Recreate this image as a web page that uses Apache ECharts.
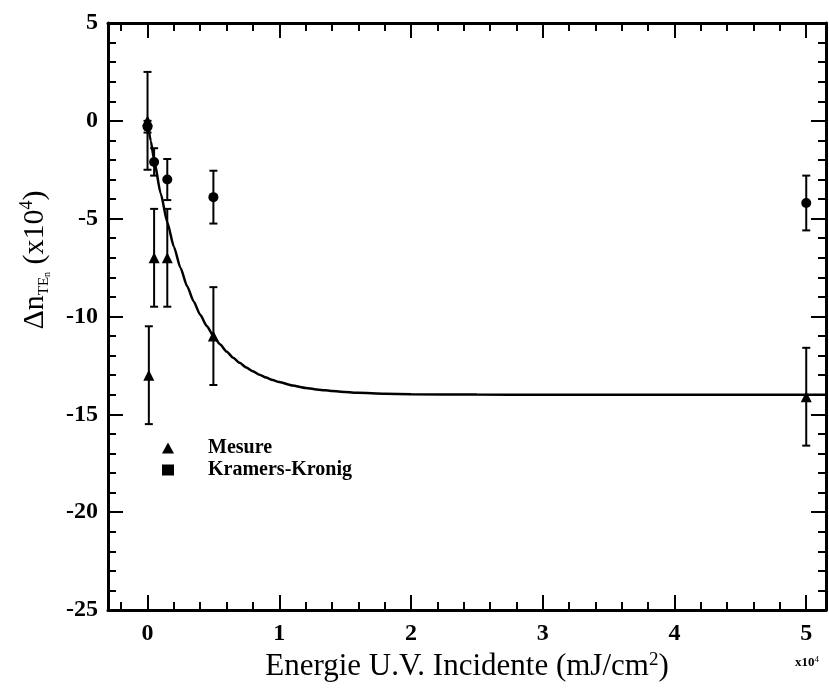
<!DOCTYPE html>
<html>
<head>
<meta charset="utf-8"/>
<title>Energie U.V. Incidente</title>
<script src="https://cdn.jsdelivr.net/npm/echarts@6/dist/echarts.min.js"></script>
<style>
html, body { margin: 0; padding: 0; background: #fff; }
#chart { width: 829px; height: 688px; }
</style>
</head>
<body>
<div id="chart"></div>
<script>
// energie en unites de 1e4 mJ/cm2, delta n en unites de 1e-4
var mesureX   = [0, 0.01, 0.05, 0.15, 0.5, 5];
var mesureY   = [0, -13, -7, -7, -11, -14.1];
var mesureErr = [2.5, 2.5, 2.5, 2.5, 2.5, 2.5];

var kkX   = [0, 0.05, 0.15, 0.5, 5];
var kkY   = [-0.3, -2.1, -3.0, -3.9, -4.2];
var kkErr = [0.3, 0.7, 1.05, 1.35, 1.4];

// courbe d'ajustement
var fitX = [0, 0.025, 0.05, 0.1, 0.15, 0.2, 0.25, 0.3, 0.35, 0.4, 0.45, 0.5, 0.55, 0.6, 0.65, 0.7, 0.75, 0.8, 0.85, 0.9, 0.95, 1.0, 1.1, 1.2, 1.3, 1.4, 1.5, 1.6, 1.8, 2, 2.5, 3, 4, 5, 5.15];
var fitY = [0, -1.04, -2.0, -3.71, -5.18, -6.43, -7.51, -8.44, -9.23, -9.91, -10.49, -10.99, -11.42, -11.79, -12.11, -12.37, -12.61, -12.8, -12.98, -13.12, -13.25, -13.35, -13.53, -13.65, -13.74, -13.81, -13.86, -13.9, -13.95, -13.97, -13.99, -14.0, -14.0, -14.0, -14.0];

var xTickLabels = ['0', '1', '2', '3', '4', '5'];
var yTickLabels = ['-25', '-20', '-15', '-10', '-5', '0', '5'];

var SERIF = '"Liberation Serif", "Times New Roman", serif';

function pairs(xs, ys) {
  return xs.map(function (x, i) { return [x, ys[i]]; });
}

function errorBars(xs, ys, errs) {
  return {
    type: 'custom',
    silent: true,
    z: 3,
    renderItem: function (params, api) {
      var lo = api.coord([api.value(0), api.value(1)]);
      var hi = api.coord([api.value(0), api.value(2)]);
      var w = 4;
      var st = { stroke: '#000', lineWidth: 2 };
      return {
        type: 'group',
        children: [
          { type: 'line', shape: { x1: lo[0], y1: lo[1], x2: hi[0], y2: hi[1] }, style: st },
          { type: 'line', shape: { x1: lo[0] - w, y1: lo[1], x2: lo[0] + w, y2: lo[1] }, style: st },
          { type: 'line', shape: { x1: hi[0] - w, y1: hi[1], x2: hi[0] + w, y2: hi[1] }, style: st }
        ]
      };
    },
    encode: { x: 0, y: [1, 2] },
    data: xs.map(function (x, i) { return [x, ys[i] - errs[i], ys[i] + errs[i]]; })
  };
}

function xLabel(v) {
  var k = xTickLabels.indexOf(String(Math.round(v)));
  return (Math.abs(v - Math.round(v)) < 1e-6 && k >= 0) ? xTickLabels[k] : '';
}

function yLabel(v) {
  var k = yTickLabels.indexOf(String(v));
  return k >= 0 ? yTickLabels[k] : '';
}

var frame = { show: true, onZero: false, lineStyle: { color: '#000', width: 3 } };

function xAxisDef(pos, step, tickLen, withLabels) {
  return {
    type: 'value', position: pos, min: -0.3, max: 5.15,
    minInterval: step, maxInterval: step,
    axisLine: withLabels !== null ? frame : { show: false, onZero: false },
    axisTick: { show: true, inside: true, length: tickLen, lineStyle: { color: '#000', width: 2 } },
    axisLabel: withLabels ? {
      show: true, formatter: xLabel, color: '#000', fontFamily: SERIF,
      fontWeight: 'bold', fontSize: 24, margin: 12
    } : { show: false },
    splitLine: { show: false }
  };
}

function yAxisDef(pos, withLabels) {
  return {
    type: 'value', position: pos, min: -25, max: 5, interval: 5,
    axisLine: frame,
    axisTick: { show: true, inside: true, length: 15, lineStyle: { color: '#000', width: 2 } },
    minorTick: { show: true, splitNumber: 5, length: 8, lineStyle: { color: '#000', width: 2 } },
    axisLabel: withLabels ? {
      show: true, formatter: yLabel, color: '#000', fontFamily: SERIF,
      fontWeight: 'bold', fontSize: 24, margin: 10
    } : { show: false },
    splitLine: { show: false }
  };
}

var xMain = xAxisDef('bottom', 1, 15, true);
xMain.name = 'Energie U.V. Incidente (mJ/cm{sup|2})';
xMain.nameLocation = 'middle';
xMain.nameGap = 37;
xMain.nameTextStyle = {
  color: '#000', fontFamily: SERIF, fontSize: 31,
  rich: { sup: { fontFamily: SERIF, fontSize: 19, color: '#000', verticalAlign: 'top', padding: [0, 0, 13, 0] } }
};

var chart = echarts.init(document.getElementById('chart'));
chart.setOption({
  animation: false,
  backgroundColor: '#fff',
  grid: { left: 108, top: 23, right: -1, bottom: 78, containLabel: false },
  xAxis: [
    xMain,
    xAxisDef('bottom', 0.2, 8, null),
    xAxisDef('top', 1, 15, false),
    xAxisDef('top', 0.2, 8, null)
  ],
  yAxis: [yAxisDef('left', true), yAxisDef('right', false)],
  legend: {
    orient: 'vertical', left: 157, top: 433, itemGap: 2,
    itemWidth: 12, itemHeight: 11,
    textStyle: { color: '#000', fontFamily: SERIF, fontWeight: 'bold', fontSize: 20, padding: [0, 0, 0, 29] },
    data: [
      { name: 'Mesure', icon: 'triangle' },
      { name: 'Kramers-Kronig', icon: 'rect' }
    ]
  },
  graphic: [
    {
      type: 'text', x: 35, y: 260, rotation: Math.PI / 2,
      style: {
        text: '{d|Δn}{s|TE}{ss|n}{d| (x10}{p|4}{d|)}',
        align: 'center', verticalAlign: 'middle', fill: '#000',
        rich: {
          d: { fontFamily: SERIF, fontSize: 30, fill: '#000' },
          s: { fontFamily: SERIF, fontSize: 15, fill: '#000', verticalAlign: 'bottom', padding: [16, 0, 0, 0] },
          ss: { fontFamily: SERIF, fontSize: 10, fill: '#000', verticalAlign: 'bottom', padding: [20, 0, 0, 0] },
          p: { fontFamily: SERIF, fontSize: 18, fill: '#000', verticalAlign: 'top', padding: [0, 0, 16, 0] }
        }
      }
    },
    {
      type: 'text', x: 807, y: 663,
      style: {
        text: 'x10{p|4}', align: 'center', verticalAlign: 'middle',
        font: 'bold 13px ' + SERIF, fill: '#000',
        rich: { p: { fontFamily: SERIF, fontSize: 9, fill: '#000', verticalAlign: 'top', padding: [0, 0, 6, 0] } }
      }
    }
  ],
  series: [
    {
      name: 'fit', type: 'line', data: pairs(fitX, fitY), showSymbol: false, symbol: 'none',
      smooth: 0.2, smoothMonotone: 'x', clip: true, silent: true,
      lineStyle: { color: '#000', width: 2.5 }, z: 2
    },
    errorBars(mesureX, mesureY, mesureErr),
    errorBars(kkX, kkY, kkErr),
    {
      name: 'Mesure', type: 'scatter', symbol: 'triangle', symbolSize: 11,
      itemStyle: { color: '#000', opacity: 1 }, data: pairs(mesureX, mesureY), z: 4
    },
    {
      name: 'Kramers-Kronig', type: 'scatter', symbol: 'circle', symbolSize: 10,
      itemStyle: { color: '#000', opacity: 1 }, data: pairs(kkX, kkY), z: 4
    }
  ]
});
</script>
</body>
</html>
